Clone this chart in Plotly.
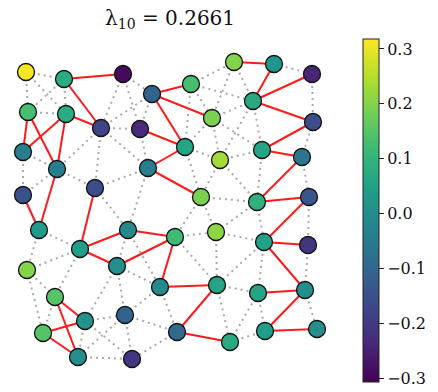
import plotly.graph_objects as go

# node layout coordinates (image space) and eigenvector values
node_x = [26, 64, 123, 191, 234, 274, 312, 152, 253, 28,
          66, 101, 140, 212, 313, 23, 185, 262, 302, 220,
          57, 148, 23, 95, 201, 257, 309, 39, 128, 80,
          175, 216, 264, 308, 27, 117, 160, 217, 258, 305,
          55, 85, 125, 43, 177, 230, 265, 317, 78, 132]
node_y = [72, 79, 74, 84, 62, 64, 74, 94, 101, 112,
          114, 128, 129, 118, 122, 152, 147, 150, 157, 160,
          169, 168, 195, 188, 197, 202, 197, 230, 230, 249,
          237, 232, 242, 245, 270, 266, 287, 285, 293, 290,
          297, 321, 315, 333, 332, 342, 331, 329, 357, 359]
node_val = [0.31, 0.08, -0.29, 0.13, 0.20, 0.02, -0.24, -0.11, 0.07, 0.13,
            0.08, -0.18, -0.23, 0.19, -0.16, -0.04, 0.06, 0.06, -0.06, 0.23,
            -0.04, -0.04, -0.15, -0.16, 0.19, 0.09, -0.14, 0.03, -0.01, 0.04,
            0.12, 0.21, 0.05, -0.21, 0.20, 0.00, -0.01, 0.06, 0.06, 0.00,
            0.15, 0.01, -0.11, 0.15, -0.09, 0.07, 0.04, 0.00, 0.00, -0.21]

red_edges = [(1, 2), (1, 11), (3, 7), (4, 5), (5, 8), (6, 8), (7, 13), (7, 16),
             (8, 14), (9, 15), (9, 20), (10, 11), (10, 15), (10, 20), (12, 16),
             (14, 17), (16, 21), (17, 18), (18, 25), (20, 27), (21, 24), (22, 27),
             (23, 29), (25, 26), (26, 32), (28, 29), (28, 30), (29, 35), (30, 35),
             (30, 36), (32, 33), (32, 39), (36, 37), (37, 44), (38, 39), (39, 46),
             (40, 41), (40, 48), (41, 43), (43, 48), (44, 45), (46, 47)]

grey_edges = [(0, 1), (0, 9), (0, 10), (1, 9), (1, 10), (2, 7), (2, 11), (2, 12),
              (3, 4), (3, 8), (3, 13), (3, 16), (4, 8), (4, 13), (5, 6), (6, 14),
              (7, 11), (7, 12), (8, 13), (8, 17), (8, 19), (9, 10), (11, 12),
              (11, 20), (11, 21), (11, 23), (12, 21), (13, 16), (13, 17), (13, 19),
              (14, 18), (15, 20), (15, 22), (16, 19), (16, 24), (17, 19), (17, 25),
              (18, 26), (19, 24), (19, 25), (20, 22), (20, 23), (21, 23), (21, 28),
              (23, 28), (24, 25), (24, 30), (24, 31), (25, 31), (25, 32), (26, 33),
              (27, 29), (27, 34), (28, 35), (28, 36), (29, 34), (29, 40), (30, 31),
              (30, 37), (31, 32), (31, 37), (32, 37), (32, 38), (33, 39), (34, 40),
              (34, 43), (35, 36), (35, 41), (35, 42), (36, 42), (36, 44), (37, 38),
              (37, 45), (38, 45), (38, 46), (39, 47), (40, 43), (41, 42), (41, 48),
              (41, 49), (42, 44), (42, 48), (42, 49), (44, 49), (45, 46), (48, 49)]

cbar_ticks = [0.3, 0.2, 0.1, 0.0, -0.1, -0.2, -0.3]
cbar_labels = ["0.3", "0.2", "0.1", "0.0", "\u22120.1", "\u22120.2", "\u22120.3"]
title_text = "\u03bb<sub>10</sub> = 0.2661"


def segments(edges):
    xs, ys = [], []
    for a, b in edges:
        xs += [node_x[a], node_x[b], None]
        ys += [node_y[a], node_y[b], None]
    return xs, ys


gx, gy = segments(grey_edges)
rx, ry = segments(red_edges)

serif = "DejaVu Serif"

fig = go.Figure()
fig.add_trace(go.Scatter(x=gx, y=gy, mode="lines", hoverinfo="skip",
                         line=dict(color="#aaaaaa", width=2, dash="2px,4px")))
fig.add_trace(go.Scatter(x=rx, y=ry, mode="lines", hoverinfo="skip",
                         line=dict(color="#ff1a1a", width=2)))
fig.add_trace(go.Scatter(
    x=node_x, y=node_y, mode="markers",
    marker=dict(size=17, color=node_val, colorscale="Viridis",
                cmin=-0.306, cmax=0.318,
                line=dict(color="#111111", width=1.3),
                colorbar=dict(
                    x=1.052, xanchor="left", y=0.5156, yanchor="middle",
                    len=343, lenmode="pixels", thickness=16,
                    thicknessmode="pixels",
                    outlinewidth=1, outlinecolor="#222222",
                    tickvals=cbar_ticks, ticktext=cbar_labels,
                    ticks="outside", ticklen=5, tickwidth=1, tickcolor="#222222",
                    tickfont=dict(family=serif, size=16, color="#111111"),
                    xpad=0, ypad=0,
                )),
))

fig.update_layout(
    width=438, height=392,
    margin=dict(l=0, r=93, t=40, b=0, autoexpand=False),
    paper_bgcolor="white", plot_bgcolor="white",
    showlegend=False,
    title=dict(text=title_text, x=0.493, xref="paper", xanchor="center",
               y=1 - 18 / 392, yref="container", yanchor="middle",
               font=dict(family=serif, size=20, color="#111111")),
    xaxis=dict(range=[0, 345], visible=False, fixedrange=True),
    yaxis=dict(range=[392, 40], visible=False, fixedrange=True),
)

fig.write_html("out.html")
